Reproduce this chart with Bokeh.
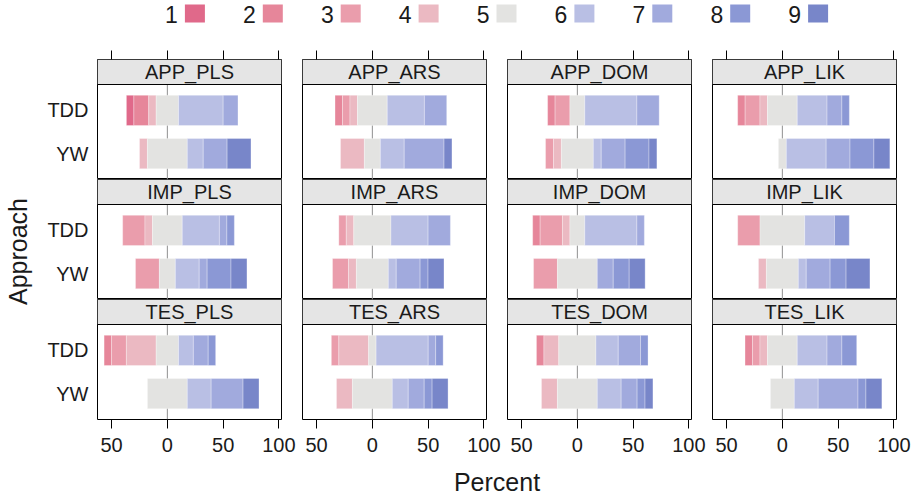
import numpy as np
from bokeh.plotting import figure
from bokeh.models import Range1d, LinearAxis, FixedTicker, Span, ColumnDataSource
from bokeh.layouts import column, row
from bokeh.embed import file_html
from bokeh.resources import INLINE
from bokeh.core.properties import value

# ---------------- data (percent of respondents per answer level) ----------------
levels = ["1", "2", "3", "4", "5", "6", "7", "8", "9"]
approaches = ["TDD", "YW"]
panels = ["APP_PLS", "APP_ARS", "APP_DOM", "APP_LIK",
          "IMP_PLS", "IMP_ARS", "IMP_DOM", "IMP_LIK",
          "TES_PLS", "TES_ARS", "TES_DOM", "TES_LIK"]

app_pls_tdd = [6.7, 13.3, 0, 6.7, 20.0, 40.0, 13.3, 0, 0]
app_pls_yw = [0, 0, 0, 7.1, 35.7, 14.3, 21.4, 0, 21.4]
app_ars_tdd = [0, 6.7, 6.7, 6.7, 26.7, 33.3, 20.0, 0, 0]
app_ars_yw = [0, 0, 0, 21.4, 14.3, 21.4, 35.7, 0, 7.1]
app_dom_tdd = [0, 6.7, 13.3, 0, 13.3, 46.7, 20.0, 0, 0]
app_dom_yw = [0, 0, 7.1, 7.1, 28.6, 7.1, 21.4, 21.4, 7.1]
app_lik_tdd = [0, 6.7, 13.3, 6.7, 26.7, 26.7, 13.3, 6.7, 0]
app_lik_yw = [0, 0, 0, 0, 7.1, 35.7, 21.4, 21.4, 14.3]
imp_pls_tdd = [0, 0, 20.0, 6.7, 26.7, 33.3, 6.7, 6.7, 0]
imp_pls_yw = [0, 0, 21.4, 0, 14.3, 21.4, 7.1, 21.4, 14.3]
imp_ars_tdd = [0, 0, 6.7, 6.7, 33.3, 33.3, 20.0, 0, 0]
imp_ars_yw = [0, 0, 14.3, 7.1, 28.6, 7.1, 21.4, 7.1, 14.3]
imp_dom_tdd = [0, 6.7, 20.0, 6.7, 13.3, 46.7, 6.7, 0, 0]
imp_dom_yw = [0, 0, 21.4, 0, 35.7, 0, 14.3, 14.3, 14.3]
imp_lik_tdd = [0, 0, 20.0, 0, 40.0, 26.7, 0, 13.3, 0]
imp_lik_yw = [0, 0, 0, 7.1, 28.6, 7.1, 21.4, 14.3, 21.4]
tes_pls_tdd = [0, 6.7, 13.3, 26.7, 20.0, 13.3, 13.3, 6.7, 0]
tes_pls_yw = [0, 0, 0, 0, 35.7, 21.4, 28.6, 0, 14.3]
tes_ars_tdd = [0, 0, 6.7, 26.7, 6.7, 46.7, 6.7, 6.7, 0]
tes_ars_yw = [0, 0, 0, 14.3, 35.7, 14.3, 14.3, 7.1, 14.3]
tes_dom_tdd = [0, 6.7, 0, 13.3, 33.3, 20.0, 20.0, 6.7, 0]
tes_dom_yw = [0, 0, 0, 14.3, 35.7, 21.4, 14.3, 7.1, 7.1]
tes_lik_tdd = [0, 6.7, 6.7, 6.7, 26.7, 26.7, 13.3, 13.3, 0]
tes_lik_yw = [0, 0, 0, 0, 21.4, 21.4, 35.7, 7.1, 14.3]

x_ticks = [-50, 0, 50, 100]
x_tick_labels = ["50", "0", "50", "100"]

panel_data = {
    "APP_PLS": (app_pls_tdd, app_pls_yw), "APP_ARS": (app_ars_tdd, app_ars_yw),
    "APP_DOM": (app_dom_tdd, app_dom_yw), "APP_LIK": (app_lik_tdd, app_lik_yw),
    "IMP_PLS": (imp_pls_tdd, imp_pls_yw), "IMP_ARS": (imp_ars_tdd, imp_ars_yw),
    "IMP_DOM": (imp_dom_tdd, imp_dom_yw), "IMP_LIK": (imp_lik_tdd, imp_lik_yw),
    "TES_PLS": (tes_pls_tdd, tes_pls_yw), "TES_ARS": (tes_ars_tdd, tes_ars_yw),
    "TES_DOM": (tes_dom_tdd, tes_dom_yw), "TES_LIK": (tes_lik_tdd, tes_lik_yw),
}

# ---------------- style ----------------
colors = ["#E0698A", "#E6869A", "#EA9DAC", "#EBB9C2", "#E3E3E1",
          "#B9BFE4", "#A1AADD", "#8B98D5", "#7886C9"]
FONT = "Liberation Sans"
TXT = "#1a1a1a"
X0, X1 = -62.6, 102.3
Y0, YP = 0.4, 2.6
STRIP_PX, PANEL_PX = 25, 95
Y1 = YP + STRIP_PX * (YP - Y0) / PANEL_PX
FRAME_W, FRAME_H = 184, 120
BAR_H = 0.7
YT_W = 38
col_borders = [(59, 17), (4, 17), (4, 17), (4, 19)]
row_borders = [(10, 0), (0, 0), (0, 42)]
y_pos = {"TDD": 2, "YW": 1}


def style_axis(ax, size="20px"):
    ax.axis_line_color = None
    ax.major_tick_line_color = "black"
    ax.minor_tick_line_color = None
    ax.major_label_text_font = FONT
    ax.major_label_text_font_size = size
    ax.major_label_text_color = TXT


def make_panel(name, r, c):
    lb, rb = col_borders[c]
    tb, bb = row_borders[r]
    p = figure(width=lb + FRAME_W + rb, height=tb + FRAME_H + bb,
               x_range=Range1d(X0, X1), y_range=Range1d(Y0, Y1),
               x_axis_location=None, y_axis_location=None,
               toolbar_location=None, output_backend="svg",
               min_border_left=lb, min_border_right=rb,
               min_border_top=tb, min_border_bottom=bb)
    p.grid.visible = False
    p.outline_line_color = "black"
    p.outline_line_width = 1
    p.background_fill_color = "white"
    p.border_fill_color = "white"

    p.add_layout(Span(location=0, dimension="height", line_color="#8f8f8f",
                      line_width=1, level="underlay"))

    ys, lefts, rights, cols = [], [], [], []
    for appr, vals in zip(approaches, panel_data[name]):
        start = -(sum(vals[:4]) + vals[4] / 2.0)
        cum = start
        for k, v in enumerate(vals):
            if v > 0:
                ys.append(y_pos[appr])
                lefts.append(cum)
                rights.append(cum + v)
                cols.append(colors[k])
            cum += v
    src = ColumnDataSource(dict(y=ys, left=lefts, right=rights, color=cols))
    p.hbar(y="y", left="left", right="right", height=BAR_H, fill_color="color",
           line_color="white", line_width=0.6, line_alpha=0.5, source=src)

    # strip
    p.quad(left=X0, right=X1, bottom=YP, top=Y1, fill_color="#e5e5e5", line_color=None)
    p.add_layout(Span(location=YP, dimension="width", line_color="black", line_width=1))
    p.text(x=[(X0 + X1) / 2], y=[(YP + Y1) / 2], text=[name],
           text_font=value(FONT), text_font_size="20px", text_color=TXT,
           text_align="center", text_baseline="middle")

    overrides = {t: l for t, l in zip(x_ticks, x_tick_labels)}
    if r == 0:
        ax = LinearAxis(ticker=FixedTicker(ticks=x_ticks))
        style_axis(ax, "0px")
        ax.major_label_overrides = {t: "" for t in x_ticks}
        ax.major_tick_out = 9
        ax.major_tick_in = 0
        ax.major_label_standoff = 0
        p.add_layout(ax, "above")
    if r == 2:
        ax = LinearAxis(ticker=FixedTicker(ticks=x_ticks))
        style_axis(ax)
        ax.major_label_overrides = overrides
        ax.major_tick_out = 9
        ax.major_tick_in = 0
        ax.major_label_standoff = 9
        p.add_layout(ax, "below")
    if c == 0:
        ay = LinearAxis(ticker=FixedTicker(ticks=[y_pos[a] for a in approaches]))
        style_axis(ay)
        ay.major_label_overrides = {y_pos[a]: a for a in approaches}
        ay.major_tick_out = 0
        ay.major_tick_in = 0
        ay.major_label_standoff = 9
        p.add_layout(ay, "left")
    return p


grid_rows = []
for r in range(3):
    figs = [make_panel(panels[r * 4 + c], r, c) for c in range(4)]
    grid_rows.append(row(figs))
grid = column(grid_rows)

TOTAL_W = YT_W + sum(l + FRAME_W + rr for l, rr in col_borders)
GRID_H = sum(t + FRAME_H + b for t, b in row_borders)
LEG_H = 49
XT_H = 497 - LEG_H - GRID_H


def blank_fig(w, h, xr, yr):
    f = figure(width=w, height=h, x_range=Range1d(*xr), y_range=Range1d(*yr),
               x_axis_location=None, y_axis_location=None,
               toolbar_location=None, output_backend="svg",
               min_border_left=0, min_border_right=0, min_border_top=0, min_border_bottom=0)
    f.grid.visible = False
    f.outline_line_color = None
    return f


# legend (labels on the left of each key, as in the reference); coordinates in pixels
leg = blank_fig(TOTAL_W, LEG_H, (0, TOTAL_W), (LEG_H, 0))
key_left = [184.4 + 77.9 * i for i in range(len(levels))]
leg.quad(left=key_left, right=[k + 20 for k in key_left], top=[4] * 9, bottom=[22] * 9,
         fill_color=colors, line_color=None)
leg.text(x=[k - 7 for k in key_left], y=[13.5] * 9, text=levels,
         text_font=value(FONT), text_font_size="23px", text_color=TXT,
         text_align="right", text_baseline="middle")

# y title
yt = blank_fig(YT_W, GRID_H, (0, YT_W), (LEG_H + GRID_H, LEG_H))
yt.text(x=[17], y=[251], text=["Approach"], angle=np.pi / 2,
        text_font=value(FONT), text_font_size="25px", text_color=TXT,
        text_align="center", text_baseline="middle")

# x title
top_xt = LEG_H + GRID_H
xt = blank_fig(TOTAL_W, XT_H, (0, TOTAL_W), (top_xt + XT_H, top_xt))
xt.text(x=[496.5], y=[481], text=["Percent"],
        text_font=value(FONT), text_font_size="25px", text_color=TXT,
        text_align="center", text_baseline="middle")

layout = column(leg, row(yt, grid), xt)
open("out.html", "w").write(file_html(layout, INLINE))
